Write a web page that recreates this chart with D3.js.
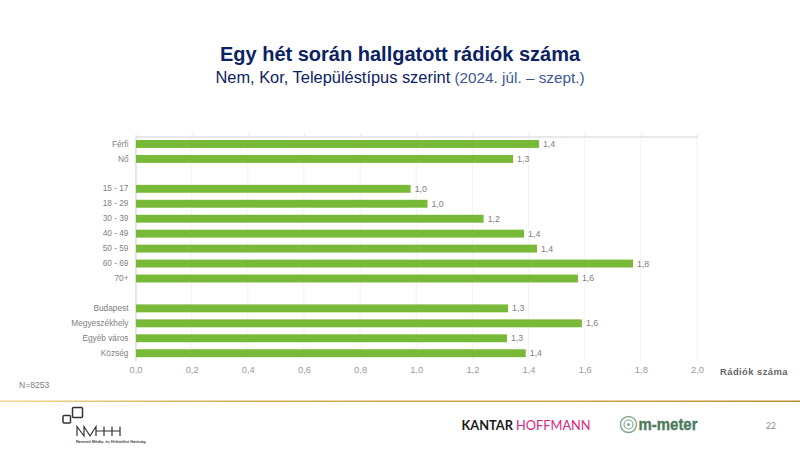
<!DOCTYPE html>
<html><head><meta charset="utf-8">
<script src="https://cdn.jsdelivr.net/npm/d3@7/dist/d3.min.js"></script>
<style>html,body{margin:0;padding:0;background:#fff;overflow:hidden}svg{display:block}text{font-family:"Liberation Sans",Arial,sans-serif}</style>
</head><body><svg id="c" width="800" height="450"></svg>
<script>
const categories=["Férfi","Nő","_a","15 - 17","18 - 29","30 - 39","40 - 49","50 - 59","60 - 69","70+","_b","Budapest","Megyeszékhely","Egyéb város","Község"];
const values=[1.437,1.345,null,0.98,1.04,1.24,1.384,1.43,1.772,1.576,null,1.327,1.59,1.323,1.39];
const xTicks=[0,0.2,0.4,0.6,0.8,1.0,1.2,1.4,1.6,1.8,2.0];
const titleText="Egy hét során hallgatott rádiók száma";
const subtitleText="Nem, Kor, Településtípus szerint";
const periodText=" (2024. júl. – szept.)";
const axisTitle="Rádiók száma", sampleNote="N=8253", pageNo="22";

const svg=d3.select("#c");
const fmt=v=>v.toFixed(1).replace(".",",");
const x=d3.scaleLinear().domain([0,2]).range([135.5,697]);
const y=d3.scaleBand().domain(categories).range([136.5,360.7]).paddingInner(0.47).paddingOuter(0.235);
const sans='"Liberation Sans",Arial,sans-serif';

// title
svg.append("text").attr("x",400).attr("y",61).attr("text-anchor","middle").attr("font-size",20).attr("font-weight","bold").attr("fill","#0b2265").text(titleText);
const st=svg.append("text").attr("x",400).attr("y",82.5).attr("text-anchor","middle").attr("font-size",16.4).attr("fill","#0b2265");
st.append("tspan").text(subtitleText);
st.append("tspan").attr("fill","#3a5796").attr("font-size",15.3).text(periodText);

// gridlines
svg.append("g").selectAll("line").data(xTicks).join("line")
 .attr("x1",d=>x(d)).attr("x2",d=>x(d)).attr("y1",136.5).attr("y2",360.5)
 .attr("stroke","#f0f0f0").attr("stroke-width",0.8);

// top axis line with ticks upward
const topAxis=d3.axisTop(x).tickValues(xTicks).tickFormat("").tickSize(3).tickSizeOuter(0);
const gT=svg.append("g").attr("transform","translate(0,136.5)").call(topAxis);
gT.select("path").attr("stroke","#cfcfda").attr("stroke-width",1);
gT.selectAll("line").attr("stroke","#e2e2e8").attr("stroke-width",0.8);

// left axis
const leftAxis=d3.axisLeft(y).tickFormat(d=>d.startsWith("_")?"":d).tickSize(0).tickPadding(7);
const gL=svg.append("g").attr("transform","translate(135.5,0)").call(leftAxis);
gL.select("path").attr("stroke","#cfcfda").attr("stroke-width",1);
gL.selectAll("text").attr("font-size",8.3).attr("fill","#808080").attr("font-family",sans);

// bottom tick labels
const bottomAxis=d3.axisBottom(x).tickValues(xTicks).tickFormat(fmt).tickSize(0).tickPadding(6);
const gB=svg.append("g").attr("transform","translate(0,360.5)").call(bottomAxis);
gB.select("path").remove();
gB.selectAll("text").attr("font-size",9.4).attr("fill","#9a9a9a").attr("font-family",sans);

// bars
const data=categories.map((c,i)=>({c,v:values[i]})).filter(d=>d.v!=null);
svg.append("g").selectAll("rect").data(data).join("rect")
 .attr("x",x(0)+0.5).attr("y",d=>y(d.c)).attr("width",d=>x(d.v)-x(0)-0.5).attr("height",y.bandwidth())
 .attr("fill","#78b937");
svg.append("g").selectAll("text").data(data).join("text")
 .attr("x",d=>x(d.v)+4).attr("y",d=>y(d.c)+y.bandwidth()/2+3)
 .attr("font-size",8.8).attr("fill","#808080").text(d=>fmt(d.v));

svg.append("text").attr("x",720).attr("y",374.5).attr("font-size",9.4).attr("font-weight","bold").attr("fill","#666").style("letter-spacing","0.45px").text(axisTitle);
svg.append("text").attr("x",19).attr("y",388).attr("font-size",8.6).attr("fill","#808080").text(sampleNote);

// divider
const g=svg.append("defs").append("linearGradient").attr("id","gold");
[[0,"#f0d890"],[0.3,"#d2ad55"],[0.7,"#cda346"],[1,"#b98f2e"]].forEach(s=>g.append("stop").attr("offset",s[0]).attr("stop-color",s[1]));
svg.append("rect").attr("x",0).attr("y",400.5).attr("width",800).attr("height",1.5).attr("fill","url(#gold)");

// NMHH logo: squares and the line-drawn wordmark
const lg=svg.append("g").attr("fill","none").attr("stroke","#333").attr("stroke-width",1.5);
lg.append("rect").attr("x",63).attr("y",415.5).attr("width",7.5).attr("height",7.5).attr("rx",1);
lg.append("rect").attr("x",72.5).attr("y",407.5).attr("width",10).attr("height",10).attr("rx",1);
const wm=svg.append("g").attr("fill","none").attr("stroke","#333").attr("stroke-width",1.2);
wm.append("path").attr("d",d3.line()([[77,436],[77,426.5],[84,436],[84,426.5],[90,436],[96,426.5],[96,436]]));
wm.append("path").attr("d","M96 431H104M104 426.5V436M104 431H120M112 426.5V436M120 426.5V436");
svg.append("text").attr("x",76).attr("y",442.5).attr("font-size",3.9).attr("font-weight","bold").attr("fill","#444").text("Nemzeti Média- és Hírközlési Hatóság");

// Kantar Hoffmann
const k=svg.append("text").attr("x",461.5).attr("y",430).attr("font-size",12.8).style("font-family","Lato,sans-serif");
k.append("tspan").attr("fill","#1a1a1a").attr("font-weight","bold").text("KANTAR ");
k.append("tspan").attr("fill","#d6277f").text("HOFFMANN");

// m-meter
const mm=svg.append("g").attr("fill","none").attr("stroke","#7fa98c");
mm.append("circle").attr("cx",628.5).attr("cy",424.5).attr("r",8).attr("stroke-width",1.4);
mm.append("circle").attr("cx",628.5).attr("cy",424.5).attr("r",4.5).attr("stroke-width",1.2);
mm.append("circle").attr("cx",628.5).attr("cy",424.5).attr("r",1.5).attr("fill","#7fa98c").attr("stroke","none");
svg.append("text").attr("x",638.5).attr("y",430).attr("font-size",17).attr("font-weight","bold").attr("fill","#4f7a5c").attr("stroke","#4f7a5c").attr("stroke-width",0.4).attr("textLength",59).attr("lengthAdjust","spacingAndGlyphs").text("m-meter");

svg.append("text").attr("x",771).attr("y",429).attr("text-anchor","middle").attr("font-size",8.6).attr("fill","#8c8c8c").style("font-family","Lato,sans-serif").text(pageNo);
</script></body></html>
